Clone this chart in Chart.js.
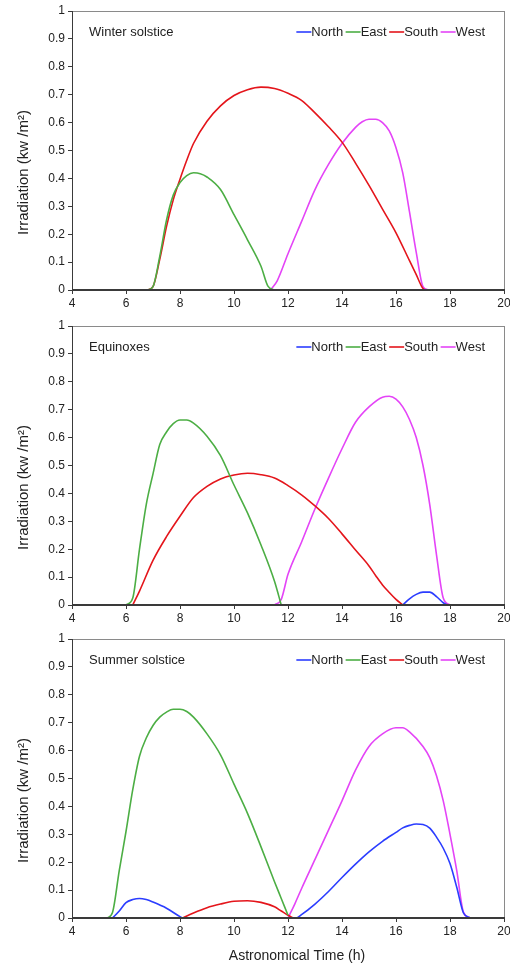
<!DOCTYPE html>
<html lang="en">
  <head>
    <meta charset="UTF-8" />
    <title>Irradiation by orientation</title>
    <script src="https://cdn.jsdelivr.net/npm/chart.js@4/dist/chart.umd.min.js"></script>
    <style>
      html, body { margin: 0; padding: 0; background: #fff; }
      body { width: 510px; height: 966px; position: relative; overflow: hidden; }
      canvas { position: absolute; left: 0; }
    </style>
  </head>
  <body>
    <canvas id="winter" width="530" height="346" style="top:-8px"></canvas>
    <canvas id="equinox" width="530" height="346" style="top:307px"></canvas>
    <canvas id="summer" width="530" height="346" style="top:620px"></canvas>

    <script>
      // series names + colours
      const seriesNames = ["North", "East", "South", "West"];
      const seriesColors = ["#2b3dff", "#4cae44", "#e4151b", "#e444f7"];
      const xTicks = [4, 6, 8, 10, 12, 14, 16, 18, 20];
      const yTicks = [0, 0.1, 0.2, 0.3, 0.4, 0.5, 0.6, 0.7, 0.8, 0.9, 1];

      // winter solstice
      const winterNorthHours = [];
      const winterNorthValues = [];
      const winterEastHours = [6.8, 7, 7.25, 7.5, 7.75, 8, 8.25, 8.5, 8.75, 9, 9.5, 10, 10.5, 11, 11.25, 11.5];
      const winterEastValues = [0, 0.012, 0.12, 0.25, 0.34, 0.385, 0.41, 0.42, 0.417, 0.405, 0.36, 0.27, 0.18, 0.085, 0.015, 0];
      const winterSouthHours = [6.8, 7, 7.25, 7.5, 7.75, 8, 8.25, 8.5, 9, 9.5, 10, 10.5, 11, 11.5, 12, 12.5, 13, 13.5, 14, 14.5, 15, 15.5, 16, 16.5, 16.75, 17, 17.1];
      const winterSouthValues = [0, 0.012, 0.11, 0.227, 0.323, 0.397, 0.465, 0.525, 0.605, 0.66, 0.697, 0.718, 0.727, 0.722, 0.705, 0.68, 0.635, 0.585, 0.53, 0.455, 0.375, 0.29, 0.205, 0.105, 0.055, 0.005, 0];
      const winterWestHours = [11.35, 11.6, 12, 12.5, 13, 13.5, 14, 14.5, 14.75, 15, 15.25, 15.5, 15.75, 16, 16.25, 16.5, 16.75, 17, 17.2];
      const winterWestValues = [0, 0.033, 0.13, 0.245, 0.36, 0.45, 0.525, 0.583, 0.603, 0.612, 0.612, 0.6, 0.57, 0.51, 0.42, 0.28, 0.135, 0.012, 0];

      // equinoxes
      const equinoxNorthHours = [16.25, 16.5, 16.75, 17, 17.25, 17.5, 17.75, 17.9];
      const equinoxNorthValues = [0, 0.022, 0.038, 0.046, 0.046, 0.03, 0.008, 0];
      const equinoxEastHours = [6, 6.25, 6.5, 6.75, 7, 7.25, 7.5, 7.75, 8, 8.25, 8.5, 9, 9.5, 10, 10.5, 11, 11.5, 11.75];
      const equinoxEastValues = [0, 0.025, 0.2, 0.36, 0.47, 0.575, 0.62, 0.65, 0.663, 0.663, 0.652, 0.605, 0.535, 0.43, 0.33, 0.215, 0.085, 0];
      const equinoxSouthHours = [6.25, 6.5, 7, 7.5, 8, 8.5, 9, 9.5, 10, 10.5, 11, 11.5, 12, 12.5, 13, 13.5, 14, 14.5, 15, 15.25, 15.5, 15.75, 16, 16.25];
      const equinoxSouthValues = [0, 0.05, 0.16, 0.245, 0.318, 0.385, 0.425, 0.452, 0.466, 0.472, 0.467, 0.455, 0.428, 0.395, 0.355, 0.31, 0.255, 0.197, 0.14, 0.105, 0.072, 0.045, 0.02, 0];
      const equinoxWestHours = [11.5, 11.75, 12, 12.5, 13, 13.5, 14, 14.5, 15, 15.5, 15.75, 16, 16.25, 16.5, 16.75, 17, 17.25, 17.5, 17.75, 18];
      const equinoxWestValues = [0, 0.02, 0.11, 0.225, 0.345, 0.455, 0.56, 0.655, 0.71, 0.745, 0.748, 0.738, 0.71, 0.665, 0.6, 0.5, 0.36, 0.18, 0.025, 0];

      // summer solstice
      const summerNorthHours = [5.5, 5.75, 6, 6.25, 6.5, 6.75, 7, 7.5, 8, 8.1, 12.3, 12.5, 13, 13.5, 14, 14.5, 15, 15.5, 16, 16.25, 16.5, 16.75, 17, 17.25, 17.5, 17.75, 18, 18.25, 18.5, 18.75];
      const summerNorthValues = [0, 0.025, 0.055, 0.066, 0.07, 0.066, 0.057, 0.035, 0.005, 0, 0, 0.012, 0.05, 0.095, 0.145, 0.193, 0.237, 0.275, 0.307, 0.323, 0.332, 0.337, 0.335, 0.322, 0.29, 0.25, 0.195, 0.11, 0.018, 0];
      const summerEastHours = [5.3, 5.5, 5.75, 6, 6.25, 6.5, 6.75, 7, 7.25, 7.5, 7.75, 8, 8.25, 8.5, 9, 9.5, 10, 10.5, 11, 11.5, 11.75, 12];
      const summerEastValues = [0, 0.02, 0.17, 0.31, 0.46, 0.58, 0.645, 0.69, 0.72, 0.738, 0.748, 0.748, 0.74, 0.72, 0.66, 0.585, 0.48, 0.375, 0.255, 0.13, 0.07, 0.01];
      const summerSouthHours = [8.1, 8.5, 9, 9.5, 10, 10.5, 11, 11.5, 11.75, 12, 12.2];
      const summerSouthValues = [0, 0.018, 0.037, 0.05, 0.06, 0.062, 0.056, 0.04, 0.025, 0.01, 0];
      const summerWestHours = [12, 12.25, 12.5, 13, 13.5, 14, 14.5, 15, 15.5, 16, 16.25, 16.5, 17, 17.25, 17.5, 17.75, 18, 18.25, 18.5, 18.75];
      const summerWestValues = [0, 0.05, 0.105, 0.21, 0.315, 0.42, 0.53, 0.615, 0.66, 0.682, 0.682, 0.667, 0.615, 0.575, 0.51, 0.42, 0.3, 0.17, 0.02, 0];

      const FONT = "'Liberation Sans', Arial, Helvetica, sans-serif";

      function points(hours, values) {
        return hours.map((h, i) => ({ x: h, y: values[i] }));
      }

      // frame, axis titles, panel title and the in-plot legend
      const panelDecor = {
        id: "panelDecor",
        afterDatasetsDraw(chart, args, opts) {
          const { ctx, chartArea: a } = chart;
          ctx.save();
          ctx.strokeStyle = "#8a8a8a";
          ctx.lineWidth = 1;
          ctx.strokeRect(a.left + 0.5, a.top + 0.5, a.right - a.left, a.bottom - a.top);
          ctx.strokeStyle = "#3a3a3a";
          ctx.beginPath();
          ctx.moveTo(a.left + 0.5, a.top);
          ctx.lineTo(a.left + 0.5, a.bottom);
          ctx.stroke();
          ctx.lineWidth = 2;
          ctx.beginPath();
          ctx.moveTo(a.left, a.bottom);
          ctx.lineTo(a.right + 1, a.bottom);
          ctx.stroke();

          ctx.fillStyle = "#222";
          ctx.textBaseline = "middle";

          // y axis title (sits a little below the plot centre)
          ctx.save();
          ctx.font = "15px " + FONT;
          ctx.textAlign = "center";
          ctx.translate(24, (a.top + a.bottom) / 2 + 22);
          ctx.rotate(-Math.PI / 2);
          ctx.fillText("Irradiation (kw /m\u00b2)", 0, 0);
          ctx.restore();

          if (opts.xTitle) {
            ctx.font = "14px " + FONT;
            ctx.textAlign = "center";
            ctx.fillText(opts.xTitle, (a.left + a.right) / 2 + 9, a.bottom + 38);
          }

          // panel title
          const ty = a.top + 21;
          ctx.font = "13px " + FONT;
          ctx.textAlign = "left";
          ctx.fillText(opts.title, a.left + 17, ty);

          // legend, right aligned
          const lineLen = 15, gap = 2.5;
          let total = 0;
          seriesNames.forEach((n, i) => {
            total += lineLen + ctx.measureText(n).width + (i ? gap : 0);
          });
          let x = a.right - 19 - total;
          seriesNames.forEach((n, i) => {
            ctx.strokeStyle = seriesColors[i];
            ctx.lineWidth = 1.6;
            ctx.beginPath();
            ctx.moveTo(x, ty);
            ctx.lineTo(x + lineLen, ty);
            ctx.stroke();
            x += lineLen;
            ctx.fillText(n, x, ty);
            x += ctx.measureText(n).width + gap;
          });
          ctx.restore();
        },
      };

      function makePanel(id, title, series, xTitle) {
        const datasets = series.map((s, i) => ({
          label: seriesNames[i],
          data: points(s[0], s[1]),
          borderColor: seriesColors[i],
          backgroundColor: seriesColors[i],
          borderWidth: 1.6,
          pointRadius: 0,
          cubicInterpolationMode: "monotone",
          fill: false,
        }));

        new Chart(document.getElementById(id), {
          type: "line",
          data: { datasets: datasets },
          plugins: [panelDecor],
          options: {
            responsive: false,
            animation: false,
            events: [],
            layout: { padding: { top: 19, right: 26, left: 0, bottom: 0 } },
            plugins: {
              legend: { display: false },
              tooltip: { enabled: false },
              panelDecor: { title: title, xTitle: xTitle },
            },
            scales: {
              x: {
                type: "linear",
                min: 4,
                max: 20,
                afterBuildTicks: (scale) => {
                  scale.ticks = xTicks.map((v) => ({ value: v }));
                },
                afterFit: (scale) => {
                  scale.height = 48;
                },
                border: { display: false },
                grid: { drawOnChartArea: false, tickLength: 4, color: "#3a3a3a" },
                ticks: {
                  padding: 2,
                  maxRotation: 0,
                  autoSkip: false,
                  color: "#222",
                  font: { family: FONT, size: 12 },
                },
              },
              y: {
                min: 0,
                max: 1,
                afterBuildTicks: (scale) => {
                  scale.ticks = yTicks.map((v) => ({ value: v }));
                },
                afterFit: (scale) => {
                  scale.width = 72;
                },
                border: { display: false },
                grid: { drawOnChartArea: false, tickLength: 4, color: "#3a3a3a" },
                ticks: {
                  padding: 3,
                  color: "#222",
                  font: { family: FONT, size: 12 },
                  callback: (v) => String(Number(v.toFixed(1))),
                },
              },
            },
          },
        });
      }

      makePanel("winter", "Winter solstice", [
        [winterNorthHours, winterNorthValues],
        [winterEastHours, winterEastValues],
        [winterSouthHours, winterSouthValues],
        [winterWestHours, winterWestValues],
      ], null);

      makePanel("equinox", "Equinoxes", [
        [equinoxNorthHours, equinoxNorthValues],
        [equinoxEastHours, equinoxEastValues],
        [equinoxSouthHours, equinoxSouthValues],
        [equinoxWestHours, equinoxWestValues],
      ], null);

      makePanel("summer", "Summer solstice", [
        [summerNorthHours, summerNorthValues],
        [summerEastHours, summerEastValues],
        [summerSouthHours, summerSouthValues],
        [summerWestHours, summerWestValues],
      ], "Astronomical Time (h)");
    </script>
  </body>
</html>
